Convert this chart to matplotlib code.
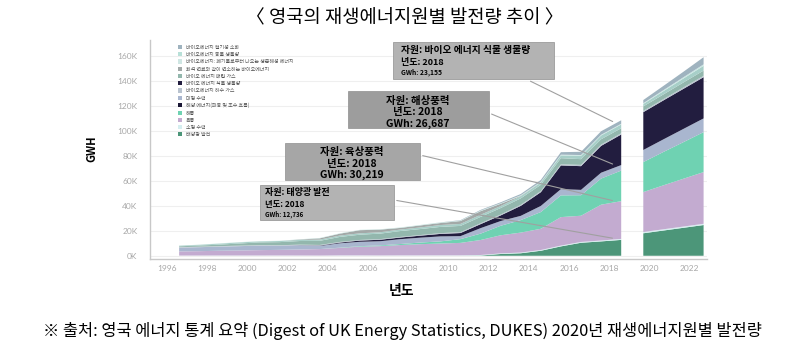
import numpy as np
import matplotlib.pyplot as plt
from matplotlib.patches import Patch, Rectangle

plt.rcParams['font.family'] = ['Noto Sans CJK KR', 'DejaVu Sans']

## data (GWh, in thousands)
years = [1996, 1997, 1998, 1999, 2000, 2001, 2002, 2003, 2004, 2005, 2006, 2007,
         2008, 2009, 2010, 2011, 2012, 2013, 2014, 2015, 2016, 2017, 2018]
proj_years = [2020, 2021, 2022, 2023]

solar = [0, 0, 0, 0, 0, 0, 0, 0, 0, 0, 0, 0, 0, 0, 0, 0.2, 1.4, 2.0, 4.0, 7.5, 10.4, 11.5, 12.7]
small_hydro = [0.15, 0.17, 0.2, 0.2, 0.2, 0.21, 0.2, 0.15, 0.28, 0.28, 0.22, 0.28,
               0.28, 0.3, 0.3, 0.4, 0.5, 0.55, 0.6, 0.65, 0.65, 0.7, 0.8]
onshore = [3.3, 3.5, 3.8, 4.0, 4.3, 4.5, 4.8, 5.2, 6.0, 7.0, 7.5, 8.3,
           9.0, 9.5, 10.0, 12.0, 14.5, 16.0, 17.0, 22.8, 21.0, 28.7, 30.2]
offshore = [0, 0, 0, 0, 0, 0, 0, 0, 0.2, 0.4, 0.6, 0.8,
            1.3, 1.7, 3.0, 5.1, 7.6, 10.0, 13.4, 17.4, 16.4, 20.9, 24.5]
ocean = [0, 0, 0, 0, 0, 0, 0, 0, 0, 0, 0, 0, 0, 0, 0, 0, 0, 0, 0, 0, 0.01, 0.01, 0.01]
large_hydro = [3.0, 3.2, 3.3, 3.5, 3.6, 3.3, 3.4, 2.5, 3.5, 3.5, 3.3, 3.9,
               3.9, 4.0, 2.4, 4.4, 3.8, 3.4, 4.9, 5.0, 4.3, 4.7, 4.4]
plant = [0, 0, 0, 0, 0, 0, 0.1, 0.3, 0.6, 1.0, 1.2, 1.3,
         1.6, 2.0, 2.5, 3.2, 4.5, 8.0, 11.0, 19.0, 19.0, 21.5, 24.5]
sewage = [0.4, 0.4, 0.4, 0.4, 0.4, 0.4, 0.4, 0.5, 0.5, 0.5, 0.5, 0.5,
          0.5, 0.6, 0.7, 0.7, 0.7, 0.8, 0.9, 0.9, 1.0, 1.0, 1.0]
landfill = [0.7, 0.9, 1.2, 1.7, 2.2, 2.5, 2.9, 3.3, 4.0, 4.2, 4.4, 4.7,
            4.8, 5.0, 5.0, 5.1, 5.2, 5.2, 5.0, 4.9, 4.6, 4.3, 4.0]
waste = [0.5, 0.6, 0.8, 0.9, 0.8, 0.9, 0.9, 1.0, 1.1, 1.1, 1.1, 1.2,
         1.3, 1.5, 1.6, 1.7, 1.6, 1.7, 1.9, 2.2, 2.7, 3.0, 3.0]
cofiring = [0, 0, 0, 0, 0, 0, 0.3, 1.0, 1.5, 2.5, 2.1, 1.3,
            1.6, 1.6, 2.3, 2.9, 1.8, 0.3, 0.1, 0, 0, 0, 0]
animal = [0.1, 0.1, 0.2, 0.2, 0.2, 0.2, 0.2, 0.3, 0.3, 0.3, 0.3, 0.4,
          0.4, 0.4, 0.4, 0.5, 0.5, 0.5, 0.5, 0.6, 0.6, 0.6, 0.6]
ad = [0, 0, 0, 0, 0, 0, 0, 0, 0, 0, 0, 0, 0, 0.1, 0.3, 0.5, 0.7, 1.0, 1.4, 2.0, 2.6, 2.8, 2.8]

solar_p = [18.0, 20.2, 22.4, 24.6]
small_hydro_p = [1.0, 1.0, 1.0, 1.0]
onshore_p = [32.0, 35.2, 38.3, 41.4]
offshore_p = [24.0, 26.7, 29.3, 32.0]
ocean_p = [0.01, 0.01, 0.01, 0.01]
large_hydro_p = [9.7, 10.1, 10.6, 11.0]
plant_p = [30.3, 31.2, 32.1, 33.0]
sewage_p = [1.0, 1.0, 1.1, 1.1]
landfill_p = [3.6, 3.8, 4.0, 4.2]
waste_p = [2.0, 2.6, 3.2, 3.8]
cofiring_p = [0, 0, 0, 0]
animal_p = [0.6, 0.8, 1.0, 1.2]
ad_p = [2.5, 3.4, 4.4, 5.7]

labels = ['바이오에너지 혐기성 소화', '바이오에너지 동물 생물량',
          '바이오에너지: 폐기물로부터 나오는 생분해성 에너지', '화석 연료와 같이 연소하는 바이오에너지',
          '바이오 에너지 매립 가스', '바이오 에너지 식물 생물량', '바이오에너지 하수 가스',
          '대형 수력', '해양 에너지(파동 및 조수 흐름)', '해풍', '육풍', '소형 수력', '태양광 발전']
leg_colours = ['#9fb3bf', '#b8e0d8', '#cfe6e3', '#a3a9a8', '#93b7ad', '#221d3f', '#b9c3cf',
               '#a9b6cf', '#1a1735', '#6fd2b2', '#c3abd0', '#d5eef0', '#4c9679']

# stacking order bottom -> top
hist = [solar, small_hydro, onshore, offshore, ocean, large_hydro, plant,
        sewage, landfill, waste, cofiring, animal, ad]
proj = [solar_p, small_hydro_p, onshore_p, offshore_p, ocean_p, large_hydro_p, plant_p,
        sewage_p, landfill_p, waste_p, cofiring_p, animal_p, ad_p]
colours = ['#4c9679', '#d5eef0', '#c3abd0', '#6fd2b2', '#1a1735', '#a9b6cf', '#221d3f',
           '#b9c3cf', '#93b7ad', '#a7cfc8', '#a3a9a8', '#c8e6e2', '#9fb3bf']

W, H = 802, 352
def fx(x): return x / W
def fy(y): return 1 - y / H

fig = plt.figure(figsize=(W/100, H/100), dpi=100)
ax = fig.add_axes([fx(150), fy(259), fx(707)-fx(150), fy(40)-fy(259)])

hx = np.array(years) + 0.6
px = np.array(proj_years) - 0.3
ax.stackplot(hx, hist, colors=colours, linewidth=0)
ax.stackplot(px, proj, colors=colours, linewidth=0)

ax.set_xlim(1995.15, 2022.87)
ax.set_ylim(-2.6, 172.8)
ax.set_yticks(np.arange(0, 161, 20))
ax.set_yticklabels([f'{v}K' for v in range(0, 161, 20)])
ax.set_xticks(range(1996, 2023, 2))
ax.tick_params(length=0, labelsize=6, colors='#a8a8a8')
ax.tick_params(axis='y', pad=9)
ax.tick_params(axis='x', pad=4)
for t in ax.get_xticklabels() + ax.get_yticklabels():
    t.set_family(['Lato', 'DejaVu Sans'])
ax.grid(axis='y', color='#efefef', lw=0.8)
ax.set_axisbelow(True)
for s in ['top', 'right']:
    ax.spines[s].set_visible(False)
for s in ['left', 'bottom']:
    ax.spines[s].set_color('#c8c8c8')
    ax.spines[s].set_linewidth(1.0)

handles = [Patch(facecolor=c, edgecolor='none') for c in leg_colours]
leg = ax.legend(handles, labels, loc='upper left', bbox_to_anchor=(0.045, 0.99), frameon=False,
                fontsize=3.6, handlelength=0.9, handleheight=0.9, labelspacing=0.45,
                handletextpad=0.8, borderpad=0)
for t in leg.get_texts():
    t.set_color('#555555')

## annotation boxes
def box(x0, y0, x1, y1, fc):
    fig.patches.append(Rectangle((fx(x0), fy(y1)), fx(x1)-fx(x0), fy(y0)-fy(y1),
                                 transform=fig.transFigure, facecolor=fc,
                                 edgecolor='#8f8f8f', lw=0.5, zorder=5))

tops = np.cumsum(np.array(hist)[:, -1])
x18 = hx[-1] - 0.3
lc = '#a0a0a0'
ax.annotate('', xy=(x18, tops[-1] - 2), xytext=(fx(528), fy(80)), textcoords='figure fraction',
            arrowprops=dict(arrowstyle='-', color=lc, lw=0.8), zorder=4)
ax.annotate('', xy=(x18, tops[5]), xytext=(fx(489), fy(113)), textcoords='figure fraction',
            arrowprops=dict(arrowstyle='-', color=lc, lw=0.8), zorder=4)
ax.annotate('', xy=(x18, tops[2]), xytext=(fx(420), fy(155)), textcoords='figure fraction',
            arrowprops=dict(arrowstyle='-', color=lc, lw=0.8), zorder=4)
ax.annotate('', xy=(x18, tops[0] + 1), xytext=(fx(394), fy(200)), textcoords='figure fraction',
            arrowprops=dict(arrowstyle='-', color=lc, lw=0.8), zorder=4)

box(393, 42, 554, 79, '#b3b3b3')
fig.text(fx(401), fy(50), '자원: 바이오 에너지 식물 생물량', fontsize=7, weight='bold', va='center', zorder=6)
fig.text(fx(401), fy(62), '년도: 2018', fontsize=6.5, weight='bold', va='center', zorder=6)
fig.text(fx(401), fy(72), 'GWh: 23,155', fontsize=4.8, weight='bold', va='center', zorder=6)

box(348, 91, 489, 128, '#9d9d9d')
for i, s in enumerate(['자원: 해상풍력', '년도: 2018', 'GWh: 26,687']):
    fig.text(fx(418), fy(101 + 11.5*i), s, fontsize=7.5, weight='bold', ha='center', va='center', zorder=6)

box(285, 143, 420, 180, '#a6a6a6')
for i, s in enumerate(['자원: 육상풍력', '년도: 2018', 'GWh: 30,219']):
    fig.text(fx(352), fy(152 + 11.5*i), s, fontsize=7.5, weight='bold', ha='center', va='center', zorder=6)

box(260, 185, 394, 220, '#b3b3b3')
fig.text(fx(265), fy(193), '자원: 태양광 발전', fontsize=6.5, weight='bold', va='center', zorder=6)
fig.text(fx(265), fy(204), '년도: 2018', fontsize=6, weight='bold', va='center', zorder=6)
fig.text(fx(265), fy(214), 'GWh: 12,736', fontsize=4.5, weight='bold', va='center', zorder=6)

fig.text(fx(405), fy(18), '〈 영국의 재생에너지원별 발전량 추이 〉', fontsize=13.5, ha='center', va='center')
fig.text(fx(92), fy(149), 'GWH', fontsize=8, weight='bold', rotation=90, ha='center', va='center')
fig.text(fx(401), fy(291), '년도', fontsize=10, weight='bold', ha='center', va='center')
fig.text(fx(402), fy(331), '※ 출처: 영국 에너지 통계 요약 (Digest of UK Energy Statistics, DUKES) 2020년 재생에너지원별 발전량',
         fontsize=11.8, ha='center', va='center')

fig.savefig('out.png', dpi=100)
